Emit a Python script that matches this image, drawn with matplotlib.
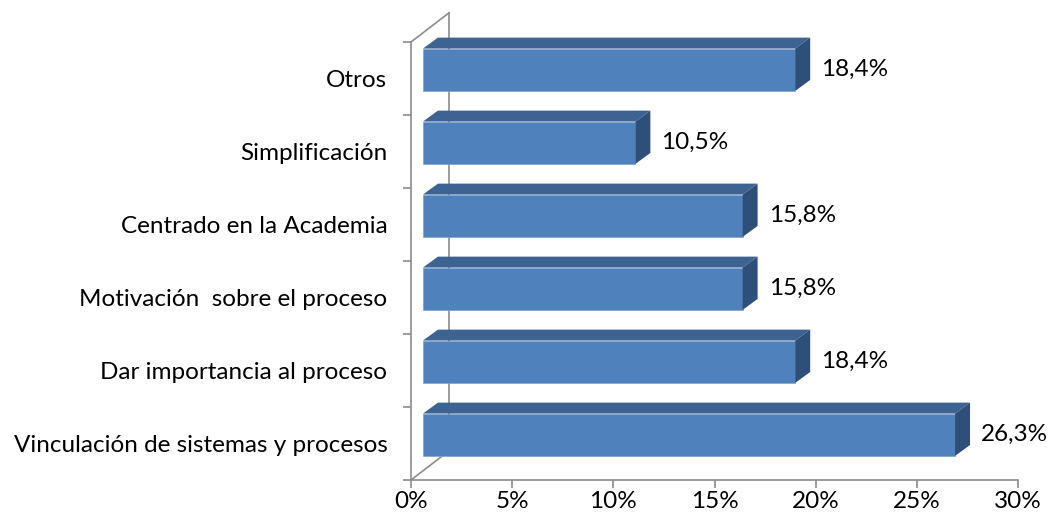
import numpy as np
import matplotlib.pyplot as plt
from matplotlib.patches import Polygon

plt.rcParams['font.family'] = ['Lato', 'DejaVu Sans']

categories = ['Vinculación de sistemas y procesos', 'Dar importancia al proceso',
              'Motivación  sobre el proceso', 'Centrado en la Academia',
              'Simplificación', 'Otros']
values = [26.3, 18.4, 15.8, 15.8, 10.5, 18.4]
x_ticks = [0, 5, 10, 15, 20, 25, 30]
x_tick_labels = ['0%', '5%', '10%', '15%', '20%', '25%', '30%']

# pseudo-3D geometry, in data units
wall_dx, wall_dy = 1.88, 0.40      # depth of the back wall
shift_x, shift_y = 0.59, 0.12      # bars sit partway into the depth
bar_dx, bar_dy = 0.74, 0.15        # depth of each bar
bar_h = 0.58

front_col = '#4F81BD'
top_col = '#3D6392'
side_col = '#2F4F7B'
axis_col = '#8C8C8C'
fs = 17.5

fig = plt.figure(figsize=(10.51, 5.26), dpi=100)
ax = fig.add_axes([411 / 1051, 46 / 526, 607 / 1051, 438 / 526])
ax.set_xlim(0, 30)
ax.set_ylim(0, 6)

# back wall edges
ax.plot([0, wall_dx], [6, 6 + wall_dy], color=axis_col, lw=1.2, clip_on=False, zorder=1)
ax.plot([0, wall_dx], [0, wall_dy], color=axis_col, lw=1.2, clip_on=False, zorder=1)
ax.plot([wall_dx, wall_dx], [wall_dy, 6 + wall_dy], color=axis_col, lw=1.2, clip_on=False, zorder=1)

for i, v in enumerate(values):
    y0 = i + 0.5 + shift_y - bar_h / 2
    y1 = y0 + bar_h
    x0 = shift_x
    x1 = v + shift_x
    front = Polygon([(x0, y0), (x1, y0), (x1, y1), (x0, y1)], closed=True,
                    facecolor=front_col, edgecolor='#7FA2CF', lw=0.5, zorder=3)
    top = Polygon([(x0, y1), (x1, y1), (x1 + bar_dx, y1 + bar_dy), (x0 + bar_dx, y1 + bar_dy)],
                  closed=True, facecolor=top_col, edgecolor='none', zorder=3, clip_on=False)
    side = Polygon([(x1, y0), (x1 + bar_dx, y0 + bar_dy), (x1 + bar_dx, y1 + bar_dy), (x1, y1)],
                   closed=True, facecolor=side_col, edgecolor='none', zorder=3, clip_on=False)
    for p in (front, top, side):
        ax.add_patch(p)
    ax.annotate(f'{v:.1f}%'.replace('.', ','), xy=(x1 + bar_dx, i + 0.5 + shift_y),
                xytext=(8, 0), textcoords='offset points', ha='left', va='center',
                fontsize=fs, color='black', zorder=4)

# axes: ticks on slot boundaries, labels at slot centres
ax.set_yticks(np.arange(0, 7))
ax.set_yticklabels([])
ax.set_yticks(np.arange(len(categories)) + 0.5, minor=True)
ax.set_yticklabels(categories, minor=True, fontsize=fs)
ax.tick_params(axis='y', which='major', direction='out', length=6, width=1.2, color=axis_col)
ax.tick_params(axis='y', which='minor', length=0, pad=17)
ax.set_xticks(x_ticks)
ax.set_xticklabels(x_tick_labels, fontsize=fs)
ax.tick_params(axis='x', direction='out', length=6, width=1.2, color=axis_col, pad=2)

for s in ('top', 'right'):
    ax.spines[s].set_visible(False)
for s in ('left', 'bottom'):
    ax.spines[s].set_color(axis_col)
    ax.spines[s].set_linewidth(1.2)

fig.savefig('out.png', dpi=100)
